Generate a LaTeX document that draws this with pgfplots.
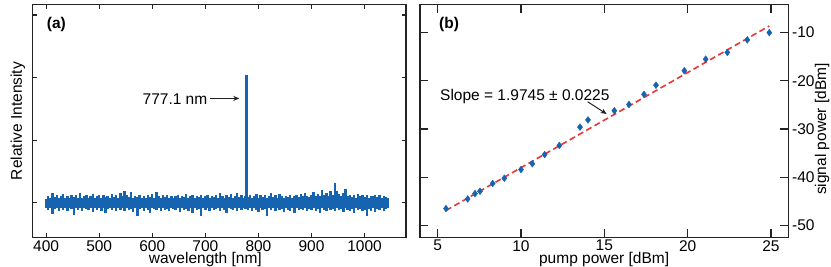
\documentclass[border=0pt]{standalone}
\usepackage{fontspec}
\setmainfont{Liberation Sans}
\usepackage{pgfplots}
\usepackage{pgfplotstable}
\pgfplotsset{compat=1.18}
\usetikzlibrary{arrows.meta}
\definecolor{specblue}{RGB}{22,100,176}
\definecolor{fitred}{RGB}{236,52,56}
\definecolor{axgray}{RGB}{35,35,35}
\newcommand{\chartfont}{\fontsize{15.5}{18}\selectfont}
\pgfplotsset{
  myaxis/.style={
    scale only axis,
    anchor=south west,
    axis line style={line width=1.3pt, axgray},
    every tick/.style={line width=1.2pt, axgray},
    tick align=inside,
    tick label style={font=\chartfont},
    label style={font=\chartfont},
    /pgf/number format/.cd, 1000 sep={}, assume math mode=true,
  },
}
% spectrum noise envelope: wavelength, upper edge, lower edge
\pgfplotstableread{
x up lo
400 0.06 -0.08
404 0.10 -0.12
408 0.08 -0.09
412 0.15 -0.18
416 0.09 -0.10
420 0.12 -0.08
424 0.07 -0.13
428 0.10 -0.09
432 0.14 -0.11
436 0.08 -0.08
440 0.11 -0.14
444 0.07 -0.09
448 0.13 -0.10
452 0.09 -0.19
456 0.12 -0.08
460 0.08 -0.11
464 0.15 -0.09
468 0.07 -0.13
472 0.10 -0.08
476 0.13 -0.10
480 0.08 -0.12
484 0.11 -0.08
488 0.14 -0.15
492 0.07 -0.09
496 0.10 -0.11
500 0.12 -0.08
504 0.08 -0.13
508 0.13 -0.09
512 0.09 -0.16
516 0.11 -0.10
520 0.07 -0.08
524 0.14 -0.12
528 0.09 -0.09
532 0.12 -0.14
536 0.08 -0.08
540 0.16 -0.11
544 0.10 -0.09
548 0.19 -0.13
552 0.12 -0.08
556 0.09 -0.12
560 0.17 -0.10
564 0.08 -0.15
568 0.11 -0.09
572 0.09 -0.22
576 0.13 -0.10
580 0.07 -0.08
584 0.11 -0.13
588 0.08 -0.09
592 0.12 -0.11
596 0.09 -0.16
600 0.14 -0.08
604 0.07 -0.10
608 0.17 -0.12
612 0.10 -0.09
616 0.08 -0.14
620 0.12 -0.08
624 0.09 -0.11
628 0.13 -0.10
632 0.08 -0.13
636 0.11 -0.08
640 0.07 -0.10
644 0.10 -0.12
648 0.13 -0.09
652 0.08 -0.15
656 0.11 -0.08
660 0.09 -0.11
664 0.14 -0.10
668 0.07 -0.13
672 0.10 -0.09
676 0.12 -0.16
680 0.08 -0.08
684 0.11 -0.12
688 0.09 -0.10
692 0.13 -0.22
696 0.08 -0.09
700 0.10 -0.11
704 0.12 -0.08
708 0.07 -0.14
712 0.11 -0.09
716 0.09 -0.12
720 0.13 -0.10
724 0.08 -0.08
728 0.15 -0.13
732 0.10 -0.09
736 0.07 -0.11
740 0.12 -0.16
744 0.09 -0.08
748 0.14 -0.10
752 0.08 -0.12
756 0.11 -0.09
760 0.16 -0.14
764 0.09 -0.08
768 0.12 -0.11
772 0.08 -0.09
776 0.10 -0.10
780 0.09 -0.12
784 0.13 -0.08
788 0.08 -0.13
792 0.11 -0.09
796 0.14 -0.11
800 0.08 -0.15
804 0.12 -0.08
808 0.09 -0.12
812 0.13 -0.10
816 0.07 -0.21
820 0.10 -0.09
824 0.15 -0.11
828 0.09 -0.08
832 0.12 -0.14
836 0.08 -0.09
840 0.14 -0.12
844 0.10 -0.10
848 0.07 -0.15
852 0.11 -0.08
856 0.09 -0.11
860 0.13 -0.13
864 0.08 -0.09
868 0.10 -0.16
872 0.12 -0.08
876 0.09 -0.11
880 0.14 -0.10
884 0.10 -0.12
888 0.16 -0.09
892 0.11 -0.14
896 0.09 -0.10
900 0.13 -0.12
904 0.17 -0.08
908 0.10 -0.13
912 0.14 -0.10
916 0.11 -0.16
920 0.21 -0.09
924 0.12 -0.11
928 0.15 -0.13
932 0.10 -0.09
936 0.18 -0.12
940 0.13 -0.10
944 0.31 -0.14
948 0.19 -0.09
952 0.14 -0.12
956 0.11 -0.10
960 0.16 -0.15
964 0.22 -0.09
968 0.10 -0.11
972 0.13 -0.13
976 0.09 -0.10
980 0.12 -0.16
984 0.08 -0.09
988 0.14 -0.12
992 0.10 -0.10
996 0.12 -0.14
1000 0.09 -0.11
1004 0.13 -0.22
1008 0.08 -0.10
1012 0.11 -0.13
1016 0.10 -0.09
1020 0.13 -0.15
1024 0.09 -0.10
1028 0.12 -0.12
1032 0.08 -0.09
1036 0.11 -0.14
1040 0.09 -0.10
1044 0.07 -0.08
}\noisetable
\begin{document}
\chartfont
\begin{tikzpicture}[x=1pt,y=1pt]
\useasboundingbox (0,0) rectangle (831,267);
% ---------------- panel (a)
\begin{axis}[myaxis,
  at={(32.3pt,29.5pt)}, width=373.7pt, height=232.8pt,
  xmin=374, xmax=1078, ymin=-0.556, ymax=3.165,
  xtick={400,500,...,1000}, ytick={0,1,2,3}, yticklabels={},
  major tick length=4.5pt,
  xticklabel style={inner sep=0pt, yshift=-2.6pt},
  xlabel={wavelength [nm]},
  xlabel style={at={(axis cs:700,-0.556)}, anchor=base, yshift=-26.3pt},
  ylabel={Relative Intensity},
  ylabel style={at={(axis description cs:-0.0282,0.5)}, anchor=base, rotate=0},
]
\addplot[draw=none, mark=none,
  error bars/.cd, y dir=plus, y explicit, error mark=none,
  error bar style={line width=2.4pt, specblue}]
  table[x=x, y=lo, y error expr=\thisrow{up}-\thisrow{lo}] {\noisetable};
\addplot[specblue, line width=2.7pt] coordinates {(777,0) (777,2.04)};
\node[anchor=base east, inner sep=0pt, font=\chartfont] at (axis cs:704,1.575) {777.1 nm};
\draw[-{Stealth[length=6pt,width=5pt]}, line width=1pt, axgray] (axis cs:709,1.667) -- (axis cs:764,1.667);
\node[anchor=base west, inner sep=0pt, font=\chartfont\bfseries] at (axis description cs:0.0385,0.8957) {(a)};
\end{axis}
% ---------------- panel (b)
\begin{axis}[myaxis,
  at={(420pt,29.5pt)}, width=368.3pt, height=232.8pt,
  xmin=3.94, xmax=26.04, ymin=-52.5, ymax=-4.2,
  xtick={5,10,...,25}, ytick={-50,-40,-30,-20,-10},
  yticklabels={-50,-40,-30,-20,-10},
  yticklabel pos=right,
  major tick length=8pt,
  xticklabel style={inner sep=0pt, yshift=-2.6pt},
  yticklabel style={inner sep=0pt, xshift=3.6pt},
  xlabel={pump power [dBm]},
  xlabel style={at={(axis description cs:0.5,0)}, anchor=base, yshift=-26.1pt},
  ylabel={signal power [dBm]},
  ylabel style={at={(axis description cs:1.1024,0.466)}, anchor=base, rotate=0},
]
\addplot[fitred, line width=1.6pt, dash pattern=on 6pt off 3.5pt] coordinates {(5.5,-46.9) (24.9,-8.6)};
\addplot[only marks, mark=diamond*, mark size=3.4pt, specblue] coordinates {
(5.5,-46.5) (6.8,-44.5) (7.24,-43.4) (7.54,-42.9) (8.3,-41.3) (9.0,-40.2) (10.0,-38.4)
(10.68,-37.2) (11.42,-35.3) (12.3,-33.4) (13.54,-29.6) (14.02,-28.1) (15.6,-26.2)
(16.48,-24.9) (17.38,-22.8) (18.1,-20.9) (19.8,-17.9) (21.08,-15.5) (22.38,-14.1)
(23.58,-11.5) (24.9,-10.0)
};
\node[anchor=base west, inner sep=0pt, font=\chartfont] at (axis cs:5.14,-24.18) {Slope = 1.9745 ± 0.0225};
\draw[-{Stealth[length=6pt,width=5pt]}, line width=1pt, axgray] (axis cs:14.0,-24.33) -- (axis cs:15.14,-26.88);
\node[anchor=base west, inner sep=0pt, font=\chartfont\bfseries] at (axis description cs:0.0516,0.8957) {(b)};
\end{axis}
\end{tikzpicture}
\end{document}
